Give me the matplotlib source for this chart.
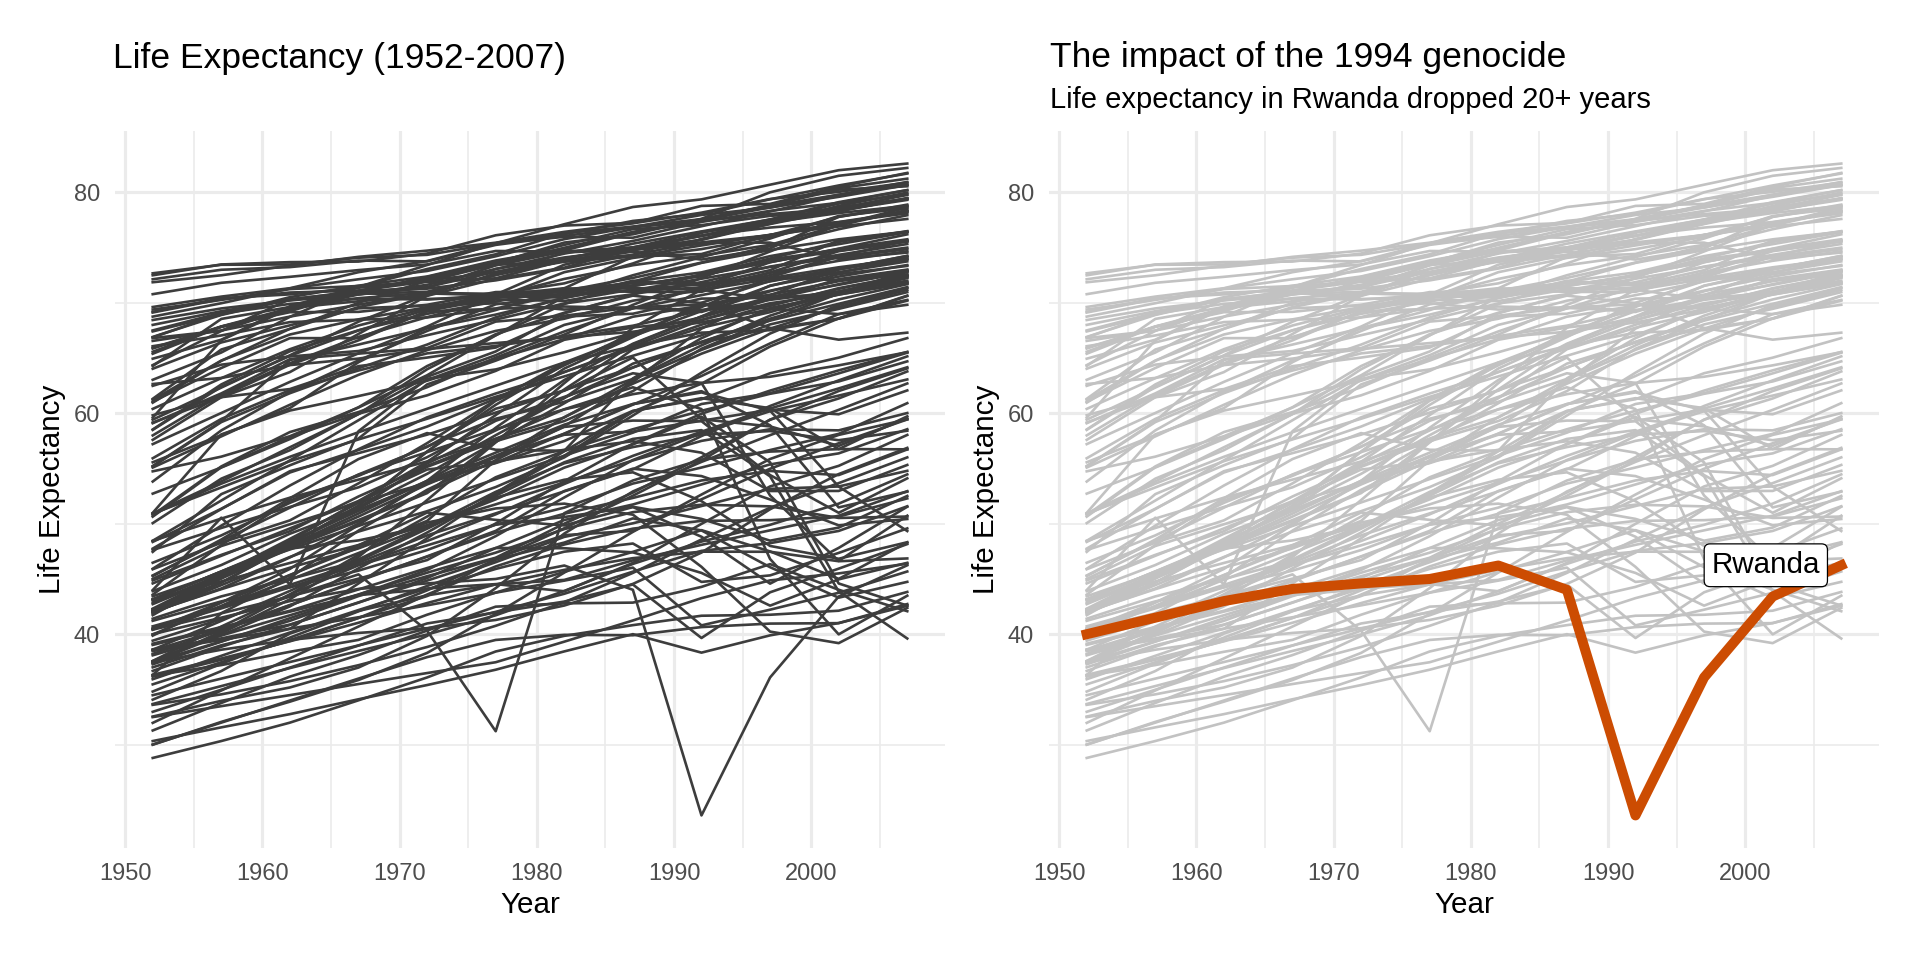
import matplotlib
matplotlib.use("Agg")
import matplotlib.pyplot as plt
from matplotlib.ticker import MultipleLocator

plt.rcParams['font.family'] = ['Liberation Sans', 'DejaVu Sans']

# --- gapminder life expectancy, 1952-2007 (5-year steps) ---
years = [1952, 1957, 1962, 1967, 1972, 1977, 1982, 1987, 1992, 1997, 2002, 2007]

africa = {
    "Algeria": [43.077, 45.685, 48.303, 51.407, 54.518, 58.014, 61.368, 65.799, 67.744, 69.152, 70.994, 72.301],
    "Angola": [30.015, 31.999, 34.0, 35.985, 37.928, 39.483, 39.942, 39.906, 40.647, 40.963, 41.003, 42.731],
    "Benin": [38.223, 40.358, 42.618, 44.885, 47.014, 49.19, 50.904, 52.337, 53.919, 54.777, 54.406, 56.728],
    "Botswana": [47.622, 49.618, 51.52, 53.298, 56.024, 59.319, 61.484, 63.622, 62.745, 52.556, 46.634, 50.728],
    "Burkina Faso": [31.975, 34.906, 37.814, 40.697, 43.591, 46.137, 48.122, 49.557, 50.26, 50.324, 50.65, 52.295],
    "Burundi": [39.031, 40.533, 42.045, 43.548, 44.057, 45.91, 47.471, 48.211, 44.736, 45.326, 47.36, 49.58],
    "Cameroon": [38.523, 40.428, 42.643, 44.799, 47.049, 49.355, 52.961, 54.985, 54.314, 52.199, 49.856, 50.43],
    "Central African Republic": [35.463, 37.464, 39.475, 41.478, 43.457, 46.775, 48.295, 50.485, 49.396, 46.066, 43.308, 44.741],
    "Chad": [38.092, 39.881, 41.716, 43.601, 45.569, 47.383, 49.517, 51.051, 51.724, 51.573, 50.525, 50.651],
    "Comoros": [40.715, 42.46, 44.467, 46.472, 48.944, 50.939, 52.933, 54.926, 57.939, 60.66, 62.974, 65.152],
    "Congo, Dem. Rep.": [39.143, 40.652, 42.122, 44.056, 45.989, 47.804, 47.784, 47.412, 45.548, 42.587, 44.966, 46.462],
    "Congo, Rep.": [42.111, 45.053, 48.435, 52.04, 54.907, 55.625, 56.695, 57.47, 56.433, 52.962, 52.97, 55.322],
    "Cote d'Ivoire": [40.477, 42.469, 44.93, 47.35, 49.801, 52.374, 53.983, 54.655, 52.044, 47.991, 46.832, 48.328],
    "Djibouti": [34.812, 37.328, 39.693, 42.074, 44.366, 46.519, 48.812, 50.04, 51.604, 53.157, 53.373, 54.791],
    "Egypt": [41.893, 44.444, 46.992, 49.293, 51.137, 53.319, 56.006, 59.797, 63.674, 67.217, 69.806, 71.338],
    "Equatorial Guinea": [34.482, 35.983, 37.485, 38.987, 40.516, 42.024, 43.662, 45.664, 47.545, 48.245, 49.348, 51.579],
    "Eritrea": [35.928, 38.047, 40.158, 42.189, 44.142, 44.535, 43.89, 46.453, 49.991, 53.378, 55.24, 58.04],
    "Ethiopia": [34.078, 36.667, 40.059, 42.115, 43.515, 44.51, 44.916, 46.684, 48.091, 49.402, 50.725, 52.947],
    "Gabon": [37.003, 38.999, 40.489, 44.598, 48.69, 52.79, 56.564, 60.19, 61.366, 60.461, 56.761, 56.735],
    "Gambia": [30.0, 32.065, 33.896, 35.857, 38.308, 41.842, 45.58, 49.265, 52.644, 55.861, 58.041, 59.448],
    "Ghana": [43.149, 44.779, 46.452, 48.072, 49.875, 51.756, 53.744, 55.729, 57.501, 58.556, 58.453, 60.022],
    "Guinea": [33.609, 34.558, 35.753, 37.197, 38.842, 40.762, 42.891, 45.552, 48.576, 51.455, 53.676, 56.007],
    "Guinea-Bissau": [32.5, 33.489, 34.488, 35.492, 36.486, 37.465, 39.327, 41.245, 43.266, 44.873, 45.504, 46.388],
    "Kenya": [42.27, 44.686, 47.949, 50.654, 53.559, 56.155, 58.766, 59.339, 59.285, 54.407, 50.992, 54.11],
    "Lesotho": [42.138, 45.047, 47.747, 48.492, 49.767, 52.208, 55.078, 57.18, 59.685, 55.558, 44.593, 42.592],
    "Liberia": [38.48, 39.486, 40.502, 41.536, 42.614, 43.764, 44.852, 46.027, 40.802, 42.221, 43.753, 45.678],
    "Libya": [42.723, 45.289, 47.808, 50.227, 52.773, 57.442, 62.155, 66.234, 68.755, 71.555, 72.737, 73.952],
    "Madagascar": [36.681, 38.865, 40.848, 42.881, 44.851, 46.881, 48.969, 49.35, 52.214, 54.978, 57.286, 59.443],
    "Malawi": [36.256, 37.207, 38.41, 39.487, 41.766, 43.767, 45.642, 47.457, 49.42, 47.495, 45.009, 48.303],
    "Mali": [33.685, 35.307, 36.936, 38.487, 39.977, 41.714, 43.916, 46.364, 48.388, 49.903, 51.818, 54.467],
    "Mauritania": [40.543, 42.338, 44.248, 46.289, 48.437, 50.852, 53.599, 56.145, 58.333, 60.43, 62.247, 64.164],
    "Mauritius": [50.986, 58.089, 60.246, 61.557, 62.944, 64.93, 66.711, 68.74, 69.745, 70.736, 71.954, 72.801],
    "Morocco": [42.873, 45.423, 47.924, 50.335, 52.862, 55.73, 59.65, 62.677, 65.393, 67.66, 69.615, 71.164],
    "Mozambique": [31.286, 33.779, 36.161, 38.113, 40.328, 42.495, 42.795, 42.861, 44.284, 46.344, 44.026, 42.082],
    "Namibia": [41.725, 45.226, 48.386, 51.159, 53.867, 56.437, 58.968, 60.835, 61.999, 58.909, 51.479, 52.906],
    "Niger": [37.444, 38.598, 39.487, 40.118, 40.546, 41.291, 42.598, 44.555, 47.391, 51.313, 54.496, 56.867],
    "Nigeria": [36.324, 37.802, 39.36, 41.04, 42.821, 44.514, 45.826, 46.886, 47.472, 47.464, 46.608, 46.859],
    "Reunion": [52.724, 55.09, 57.666, 60.542, 64.274, 67.064, 69.885, 71.913, 73.615, 74.772, 75.744, 76.442],
    "Rwanda": [40.0, 41.5, 43.0, 44.1, 44.6, 45.0, 46.218, 44.02, 23.599, 36.087, 43.413, 46.242],
    "Sao Tome and Principe": [46.471, 48.945, 51.893, 54.425, 56.48, 58.55, 60.351, 61.728, 62.742, 63.306, 64.337, 65.528],
    "Senegal": [37.278, 39.329, 41.454, 43.563, 45.815, 48.879, 52.379, 55.769, 58.196, 60.187, 61.6, 63.062],
    "Sierra Leone": [30.331, 31.57, 32.767, 34.113, 35.4, 36.788, 38.445, 40.006, 38.333, 39.897, 41.012, 42.568],
    "Somalia": [32.978, 34.977, 36.981, 38.977, 40.973, 41.974, 42.955, 44.501, 39.658, 43.795, 45.936, 48.159],
    "South Africa": [45.009, 47.985, 49.951, 51.927, 53.696, 55.527, 58.161, 60.834, 61.888, 60.236, 53.365, 49.339],
    "Sudan": [38.635, 39.624, 40.87, 42.858, 45.083, 47.8, 50.338, 51.744, 53.556, 55.373, 56.369, 58.556],
    "Swaziland": [41.407, 43.424, 44.992, 46.633, 49.552, 52.537, 55.561, 57.678, 58.474, 54.289, 43.869, 39.613],
    "Tanzania": [41.215, 42.974, 44.246, 45.757, 47.62, 49.919, 50.608, 51.535, 50.44, 48.466, 49.651, 52.517],
    "Togo": [38.596, 41.208, 43.922, 46.769, 49.759, 52.887, 55.471, 56.941, 58.061, 58.39, 57.561, 58.42],
    "Tunisia": [44.6, 47.1, 49.579, 52.053, 55.602, 59.837, 64.048, 66.894, 70.001, 71.973, 73.042, 73.923],
    "Uganda": [39.978, 42.571, 45.344, 48.051, 51.016, 50.35, 49.849, 51.509, 48.825, 44.578, 47.813, 51.542],
    "Zambia": [42.038, 44.077, 46.023, 47.768, 50.107, 51.386, 51.821, 50.821, 46.1, 40.238, 39.193, 42.384],
    "Zimbabwe": [48.451, 50.469, 52.358, 53.995, 55.635, 57.674, 60.363, 62.351, 60.377, 46.809, 39.989, 43.487],
}

americas = {
    "Argentina": [62.485, 64.399, 65.142, 65.634, 67.065, 68.481, 69.942, 70.774, 71.868, 73.275, 74.34, 75.32],
    "Bolivia": [40.414, 41.89, 43.428, 45.032, 46.714, 50.023, 53.859, 57.251, 59.957, 62.05, 63.883, 65.554],
    "Brazil": [50.917, 53.285, 55.665, 57.632, 59.504, 61.489, 63.336, 65.205, 67.057, 69.388, 71.006, 72.39],
    "Canada": [68.75, 69.96, 71.3, 72.13, 72.88, 74.21, 75.76, 76.86, 77.95, 78.61, 79.77, 80.653],
    "Chile": [54.745, 56.074, 57.924, 60.523, 63.441, 67.052, 70.565, 72.492, 74.126, 75.816, 77.86, 78.553],
    "Colombia": [50.643, 55.118, 57.863, 59.963, 61.623, 63.837, 66.653, 67.768, 68.421, 70.313, 71.682, 72.889],
    "Costa Rica": [57.206, 60.026, 62.842, 65.424, 67.849, 70.75, 73.45, 74.752, 75.713, 77.26, 78.123, 78.782],
    "Cuba": [59.421, 62.325, 65.246, 68.29, 70.723, 72.649, 73.717, 74.174, 74.414, 76.151, 77.158, 78.273],
    "Dominican Republic": [45.928, 49.828, 53.459, 56.751, 59.631, 61.788, 63.727, 66.046, 68.457, 69.957, 70.847, 72.235],
    "Ecuador": [48.357, 51.356, 54.64, 56.678, 58.796, 61.31, 64.342, 67.231, 69.613, 72.312, 74.173, 74.994],
    "El Salvador": [45.262, 48.57, 52.307, 55.855, 58.207, 56.696, 56.604, 63.154, 66.798, 69.535, 70.734, 71.878],
    "Guatemala": [42.023, 44.142, 46.954, 50.016, 53.738, 56.029, 58.137, 60.782, 63.373, 66.322, 68.978, 70.259],
    "Haiti": [37.579, 40.696, 43.59, 46.243, 48.042, 49.923, 51.461, 53.636, 55.089, 56.671, 58.137, 60.916],
    "Honduras": [41.912, 44.665, 48.041, 50.924, 53.884, 57.402, 60.909, 64.492, 66.399, 67.659, 68.565, 70.198],
    "Jamaica": [58.53, 62.61, 65.61, 67.51, 69.0, 70.11, 71.21, 71.77, 71.766, 72.262, 72.047, 72.567],
    "Mexico": [50.789, 55.19, 58.299, 60.11, 62.361, 65.032, 67.405, 69.498, 71.455, 73.67, 74.902, 76.195],
    "Nicaragua": [42.314, 45.432, 48.632, 51.884, 55.151, 57.47, 59.298, 62.008, 65.843, 68.426, 70.836, 72.899],
    "Panama": [55.191, 59.201, 61.817, 64.071, 66.216, 68.681, 70.472, 71.523, 72.462, 73.738, 74.712, 75.537],
    "Paraguay": [62.649, 63.196, 64.361, 64.951, 65.815, 66.353, 66.874, 67.378, 68.225, 69.4, 70.755, 71.752],
    "Peru": [43.902, 46.263, 49.096, 51.445, 55.448, 58.447, 61.406, 64.134, 66.458, 68.386, 69.906, 71.421],
    "Puerto Rico": [64.28, 68.54, 69.62, 71.1, 72.16, 73.44, 73.75, 74.63, 73.911, 74.917, 77.778, 78.746],
    "Trinidad and Tobago": [59.1, 61.8, 64.9, 65.4, 65.9, 68.3, 68.832, 69.582, 69.862, 69.465, 68.976, 69.819],
    "United States": [68.44, 69.49, 70.21, 70.76, 71.34, 73.38, 74.65, 75.02, 76.09, 76.81, 77.31, 78.242],
    "Uruguay": [66.071, 67.044, 68.253, 68.468, 68.673, 69.481, 70.805, 71.918, 72.752, 74.223, 75.307, 76.384],
    "Venezuela": [55.088, 57.907, 60.77, 63.479, 65.712, 67.456, 68.557, 70.19, 71.15, 72.146, 72.766, 73.747],
}

asia = {
    "Afghanistan": [28.801, 30.332, 31.997, 34.02, 36.088, 38.438, 39.854, 40.822, 41.674, 41.763, 42.129, 43.828],
    "Bahrain": [50.939, 53.832, 56.923, 59.923, 63.3, 65.593, 69.052, 70.75, 72.601, 73.925, 74.795, 75.635],
    "Bangladesh": [37.484, 39.348, 41.216, 43.453, 45.252, 46.923, 50.009, 52.819, 56.018, 59.412, 62.013, 64.062],
    "Cambodia": [39.417, 41.366, 43.415, 45.415, 40.317, 31.22, 50.957, 53.914, 55.803, 56.534, 56.752, 59.723],
    "China": [44.0, 50.549, 44.501, 58.381, 63.119, 63.967, 65.525, 67.274, 68.69, 70.426, 72.028, 72.961],
    "Hong Kong, China": [60.96, 64.75, 67.65, 70.0, 72.0, 73.6, 75.45, 76.2, 77.601, 80.0, 81.495, 82.208],
    "India": [37.373, 40.249, 43.605, 47.193, 50.651, 54.208, 56.596, 58.553, 60.223, 61.765, 62.879, 64.698],
    "Indonesia": [37.468, 39.918, 42.518, 45.964, 49.203, 52.702, 56.159, 60.137, 62.681, 66.041, 68.588, 70.65],
    "Iran": [44.869, 47.181, 49.325, 52.469, 55.234, 57.702, 59.62, 63.04, 65.742, 68.042, 69.451, 70.964],
    "Iraq": [45.32, 48.437, 51.457, 54.459, 56.95, 60.413, 62.038, 65.044, 59.461, 58.811, 57.046, 59.545],
    "Israel": [65.39, 67.84, 69.39, 70.75, 71.63, 73.06, 74.45, 75.6, 76.93, 78.269, 79.696, 80.745],
    "Japan": [63.03, 65.5, 68.73, 71.43, 73.42, 75.38, 77.11, 78.67, 79.36, 80.69, 82.0, 82.603],
    "Jordan": [43.158, 45.669, 48.126, 51.629, 56.528, 61.134, 63.739, 65.869, 68.015, 69.772, 71.263, 72.535],
    "Korea, Dem. Rep.": [50.056, 54.081, 56.656, 59.942, 63.983, 67.159, 69.1, 70.647, 69.978, 67.727, 66.662, 67.297],
    "Korea, Rep.": [47.453, 52.681, 55.292, 57.716, 62.612, 64.766, 67.123, 69.81, 72.244, 74.647, 77.045, 78.623],
    "Kuwait": [55.565, 58.033, 60.47, 64.624, 67.712, 69.343, 71.309, 74.174, 75.19, 76.156, 76.904, 77.588],
    "Lebanon": [55.928, 59.489, 62.094, 63.87, 65.421, 66.099, 66.983, 67.926, 69.292, 70.265, 71.028, 71.993],
    "Malaysia": [48.463, 52.102, 55.737, 59.371, 63.01, 65.256, 68.0, 69.5, 70.693, 71.938, 73.044, 74.241],
    "Mongolia": [42.244, 45.248, 48.251, 51.253, 53.754, 55.491, 57.489, 60.222, 61.271, 63.625, 65.033, 66.803],
    "Myanmar": [36.319, 41.905, 45.108, 49.379, 53.07, 56.059, 58.056, 58.339, 59.32, 60.328, 59.908, 62.069],
    "Nepal": [36.157, 37.686, 39.393, 41.472, 43.971, 46.748, 49.594, 52.537, 55.727, 59.426, 61.34, 63.785],
    "Oman": [37.578, 40.08, 43.165, 46.988, 52.143, 57.367, 62.728, 67.734, 71.197, 72.499, 74.193, 75.64],
    "Pakistan": [43.436, 45.557, 47.67, 49.8, 51.929, 54.043, 56.158, 58.245, 60.838, 61.818, 63.61, 65.483],
    "Philippines": [47.752, 51.334, 54.757, 56.393, 58.065, 60.06, 62.082, 64.151, 66.458, 68.564, 70.303, 71.688],
    "Saudi Arabia": [39.875, 42.868, 45.914, 49.901, 53.886, 58.69, 63.012, 66.295, 68.768, 70.533, 71.626, 72.777],
    "Singapore": [60.396, 63.179, 65.798, 67.946, 69.521, 70.795, 71.76, 73.56, 75.788, 77.158, 78.77, 79.972],
    "Sri Lanka": [57.593, 61.456, 62.192, 64.266, 65.042, 65.949, 68.757, 69.011, 70.379, 70.457, 70.815, 72.396],
    "Syria": [45.883, 48.284, 50.305, 53.655, 57.296, 61.195, 64.59, 66.974, 69.249, 71.527, 73.053, 74.143],
    "Taiwan": [58.5, 62.4, 65.2, 67.5, 69.39, 70.59, 72.16, 73.4, 74.26, 75.25, 76.99, 78.4],
    "Thailand": [50.848, 53.63, 56.061, 58.285, 60.405, 62.494, 64.597, 66.084, 67.298, 67.521, 68.564, 70.616],
    "Vietnam": [40.412, 42.887, 45.363, 47.838, 50.254, 55.764, 58.816, 62.82, 67.662, 70.672, 73.017, 74.249],
    "West Bank and Gaza": [43.16, 45.671, 48.127, 51.631, 56.532, 60.765, 64.406, 67.046, 69.718, 71.096, 72.37, 73.422],
    "Yemen, Rep.": [32.548, 33.97, 35.18, 36.984, 39.848, 44.175, 49.113, 52.922, 55.599, 58.02, 60.308, 62.698],
}

europe = {
    "Albania": [55.23, 59.28, 64.82, 66.22, 67.69, 68.93, 70.42, 72.0, 71.581, 72.95, 75.651, 76.423],
    "Austria": [66.8, 67.48, 69.54, 70.14, 70.63, 72.17, 73.18, 74.94, 76.04, 77.51, 78.98, 79.829],
    "Belgium": [68.0, 69.24, 70.25, 70.94, 71.44, 72.8, 73.93, 75.35, 76.46, 77.53, 78.32, 79.441],
    "Bosnia and Herzegovina": [53.82, 58.45, 61.93, 64.79, 67.45, 69.86, 70.69, 71.14, 72.178, 73.244, 74.09, 74.852],
    "Bulgaria": [59.6, 66.61, 69.51, 70.42, 70.9, 70.81, 71.08, 71.34, 71.19, 70.32, 72.14, 73.005],
    "Croatia": [61.21, 64.77, 67.13, 68.5, 69.61, 70.64, 70.46, 71.52, 72.527, 73.68, 74.876, 75.748],
    "Czech Republic": [66.87, 69.03, 69.9, 70.38, 70.29, 70.71, 70.96, 71.58, 72.4, 74.01, 75.51, 76.486],
    "Denmark": [70.78, 71.81, 72.35, 72.96, 73.47, 74.69, 74.63, 74.8, 75.33, 76.11, 77.18, 78.332],
    "Finland": [66.55, 67.49, 68.75, 69.83, 70.87, 72.52, 74.55, 74.83, 75.7, 77.13, 78.37, 79.313],
    "France": [67.41, 68.93, 70.51, 71.55, 72.38, 73.83, 74.89, 76.34, 77.46, 78.64, 79.59, 80.657],
    "Germany": [67.5, 69.1, 70.3, 70.8, 71.0, 72.5, 73.8, 74.847, 76.07, 77.34, 78.67, 79.406],
    "Greece": [65.86, 67.86, 69.51, 71.0, 72.34, 73.68, 75.24, 76.67, 77.03, 77.869, 78.256, 79.483],
    "Hungary": [64.03, 66.41, 67.96, 69.5, 69.76, 69.95, 69.39, 69.58, 69.17, 71.04, 72.59, 73.338],
    "Iceland": [72.49, 73.47, 73.68, 73.73, 74.46, 76.11, 76.99, 77.23, 78.77, 78.95, 80.5, 81.757],
    "Ireland": [66.91, 68.9, 70.29, 71.08, 71.28, 72.03, 73.1, 74.36, 75.467, 76.122, 77.783, 78.885],
    "Italy": [65.94, 67.81, 69.24, 71.06, 72.19, 73.48, 74.98, 76.42, 77.44, 78.82, 80.24, 80.546],
    "Montenegro": [59.164, 61.448, 63.728, 67.178, 70.636, 73.066, 74.101, 74.865, 75.435, 75.445, 73.981, 74.543],
    "Netherlands": [72.13, 72.99, 73.23, 73.82, 73.75, 75.24, 76.05, 76.83, 77.42, 78.03, 78.53, 79.762],
    "Norway": [72.67, 73.44, 73.47, 74.08, 74.34, 75.37, 75.97, 75.89, 77.32, 78.32, 79.05, 80.196],
    "Poland": [61.31, 65.77, 67.64, 69.61, 70.85, 70.67, 71.32, 70.98, 70.99, 72.75, 74.67, 75.563],
    "Portugal": [59.82, 61.51, 64.39, 66.6, 69.26, 70.41, 72.77, 74.06, 74.86, 75.97, 77.29, 78.098],
    "Romania": [61.05, 64.1, 66.8, 66.8, 69.21, 69.46, 69.66, 69.53, 69.36, 69.72, 71.322, 72.476],
    "Serbia": [57.996, 61.685, 64.531, 66.914, 68.7, 70.3, 70.162, 71.218, 71.659, 72.232, 73.213, 74.002],
    "Slovak Republic": [64.36, 67.45, 70.33, 70.98, 70.35, 70.45, 70.8, 71.08, 71.38, 72.71, 73.8, 74.663],
    "Slovenia": [65.57, 67.85, 69.15, 69.18, 69.82, 70.97, 71.063, 72.25, 73.64, 75.13, 76.66, 77.926],
    "Spain": [64.94, 66.66, 69.69, 71.44, 73.06, 74.39, 76.3, 76.9, 77.57, 78.77, 79.78, 80.941],
    "Sweden": [71.86, 72.49, 73.37, 74.16, 74.72, 75.44, 76.42, 77.19, 78.16, 79.39, 80.04, 80.884],
    "Switzerland": [69.62, 70.56, 71.32, 72.77, 73.78, 75.39, 76.21, 77.41, 78.03, 79.37, 80.62, 81.701],
    "Turkey": [43.585, 48.079, 52.098, 54.336, 57.005, 59.507, 61.036, 63.108, 66.146, 68.835, 70.845, 71.777],
    "United Kingdom": [69.18, 70.42, 70.76, 71.36, 72.01, 72.76, 74.04, 75.007, 76.42, 77.218, 78.471, 79.425],
}

oceania = {
    "Australia": [69.12, 70.33, 70.93, 71.1, 71.93, 73.49, 74.74, 76.32, 77.56, 78.83, 80.37, 81.235],
    "New Zealand": [69.39, 70.26, 71.24, 71.52, 71.89, 72.22, 73.84, 74.32, 76.33, 77.55, 79.11, 80.204],
}

highlight = "Rwanda"

# --- combine and sort by country name (ggplot draws groups alphabetically) ---
life_exp = {}
for continent in [africa, americas, asia, europe, oceania]:
    life_exp.update(continent)
countries = sorted(life_exp)

fig = plt.figure(figsize=(19.2, 9.6), dpi=100)
fig.patch.set_facecolor("white")

W, H = 1920, 960
panel_w, panel_top, panel_bot = 830, 131, 848
ax1 = fig.add_axes([115 / W, (H - panel_bot) / H, panel_w / W, (panel_bot - panel_top) / H])
ax2 = fig.add_axes([1049 / W, (H - panel_bot) / H, panel_w / W, (panel_bot - panel_top) / H])


def style_panel(ax):
    ax.set_xlim(1949.25, 2009.75)
    ax.set_ylim(20.65, 85.55)
    ax.xaxis.set_major_locator(MultipleLocator(10))
    ax.xaxis.set_minor_locator(MultipleLocator(5))
    ax.yaxis.set_major_locator(MultipleLocator(20))
    ax.yaxis.set_minor_locator(MultipleLocator(10))
    ax.grid(which="major", color="#ebebeb", linewidth=2.3)
    ax.grid(which="minor", color="#ebebeb", linewidth=1.2)
    ax.set_axisbelow(True)
    for s in ax.spines.values():
        s.set_visible(False)
    ax.tick_params(which="both", length=0, pad=10.8, labelsize=17, labelcolor="#4d4d4d")
    ax.set_xlabel("Year", fontsize=21.3, color="black", va="baseline")
    ax.xaxis.set_label_coords(0.5, -(913 - panel_bot) / (panel_bot - panel_top))
    ax.set_ylabel("Life Expectancy", fontsize=21.3, color="black", va="center")
    ax.yaxis.set_label_coords(-63 / panel_w, 0.5)


# left panel: every country in dark grey
for c in countries:
    ax1.plot(years, life_exp[c], color="#3d3d3d", linewidth=1.9)
style_panel(ax1)

# right panel: all countries faded, Rwanda highlighted
for c in countries:
    ax2.plot(years, life_exp[c], color="#c2c2c2", linewidth=1.9)
ax2.plot(years, life_exp[highlight], color="#cc4c02", linewidth=7.2, zorder=5)
ax2.text(2001.5, life_exp[highlight][-1], highlight, fontsize=21.3, ha="center", va="center", zorder=6,
         bbox=dict(boxstyle="round,pad=0.25,rounding_size=0.2", facecolor="white", edgecolor="black", linewidth=0.9))
style_panel(ax2)

# titles
fig.text(113 / W, 1 - 68 / H, "Life Expectancy (1952-2007)", fontsize=25.5, va="baseline", ha="left")
fig.text(1050 / W, 1 - 67 / H, "The impact of the 1994 genocide", fontsize=25.5, va="baseline", ha="left")
fig.text(1050 / W, 1 - 108 / H, "Life expectancy in Rwanda dropped 20+ years", fontsize=21.0, va="baseline", ha="left")

fig.savefig("out.png", dpi=100, facecolor="white")
